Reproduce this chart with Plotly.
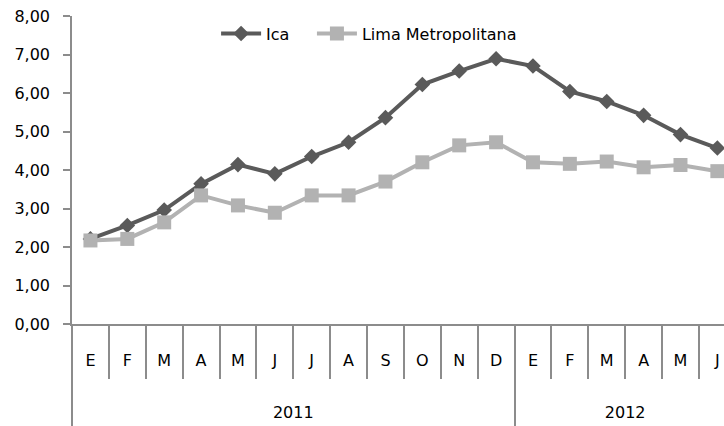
import plotly.graph_objects as go

years = ["2011"] * 12 + ["2012"] * 6
months = ["E", "F", "M", "A", "M", "J", "J", "A", "S", "O", "N", "D",
          "E", "F", "M", "A", "M", "J"]

ica = [2.21, 2.56, 2.96, 3.64, 4.14, 3.90, 4.35, 4.72, 5.36, 6.22, 6.57, 6.89,
       6.70, 6.04, 5.78, 5.42, 4.92, 4.57]
lima = [2.17, 2.21, 2.64, 3.34, 3.08, 2.89, 3.34, 3.34, 3.70, 4.20, 4.64, 4.72,
        4.20, 4.16, 4.22, 4.07, 4.13, 3.97]

y_ticks = [0, 1, 2, 3, 4, 5, 6, 7, 8]
y_labels = ["0,00", "1,00", "2,00", "3,00", "4,00", "5,00", "6,00", "7,00", "8,00"]

# month slots on a plain index axis; year labels go in the middle of their months
pos = list(range(len(months)))
year_names = sorted(set(years))
year_mid = [sum(i for i, yr in zip(pos, years) if yr == name) / years.count(name)
            for name in year_names]

FONT = "DejaVu Sans"
AXIS = "#8c8c8c"
XRANGE = [-0.5, 17.18]  # last month is cut by the right edge, as in the original

fig = go.Figure()
fig.add_trace(go.Scatter(
    x=pos, y=ica, name="Ica", mode="lines+markers", legend="legend",
    line=dict(color="#5a5a5a", width=4),
    marker=dict(symbol="diamond", size=12, color="#5a5a5a"),
))
# second series sits on the overlaid year axis (same range) so that axis gets drawn
fig.add_trace(go.Scatter(
    x=pos, y=lima, name="Lima Metropolitana", mode="lines+markers", legend="legend2",
    xaxis="x2", yaxis="y",
    line=dict(color="#b2b2b2", width=4),
    marker=dict(symbol="square", size=14, color="#b2b2b2"),
))

legend_style = dict(orientation="h", xanchor="left", yanchor="middle", y=0.943,
                    bgcolor="rgba(0,0,0,0)", font=dict(size=16), itemwidth=40)

fig.update_layout(
    width=724, height=426,
    margin=dict(l=72, r=0, t=16, b=102),
    plot_bgcolor="white", paper_bgcolor="white",
    font=dict(family=FONT, size=16, color="#000000"),
    showlegend=True,
    legend=dict(x=0.221, **legend_style),
    legend2=dict(x=0.368, **legend_style),
    xaxis=dict(
        range=XRANGE, automargin=False, ticklabeloverflow="allow",
        tickvals=pos, ticktext=months, ticks="", ticklabelstandoff=21,
        showline=True, linecolor=AXIS, linewidth=1.5,
        minor=dict(tick0=-0.5, dtick=1, ticks="outside", ticklen=53,
                   tickcolor=AXIS, tickwidth=1.5, showgrid=False),
        showgrid=False, zeroline=False, tickfont=dict(size=16),
    ),
    xaxis2=dict(
        overlaying="x", anchor="y", side="bottom",
        range=XRANGE, automargin=False, ticklabeloverflow="allow",
        tickvals=year_mid, ticktext=year_names, ticks="", ticklabelstandoff=77,
        showline=False,
        minor=dict(tick0=-0.5, dtick=12, ticks="outside", ticklen=102,
                   tickcolor=AXIS, tickwidth=1.5, showgrid=False),
        showgrid=False, zeroline=False, tickfont=dict(size=16),
    ),
    yaxis=dict(
        range=[0, 8], tickvals=y_ticks, ticktext=y_labels, automargin=False,
        ticklabeloverflow="allow",
        showline=True, linecolor=AXIS, linewidth=1.5,
        ticks="outside", ticklen=7, tickcolor=AXIS, tickwidth=1.5,
        ticklabelstandoff=10,
        showgrid=False, zeroline=False, tickfont=dict(size=16),
    ),
)

# drop the default 8px page margin and scrollbars so the figure fills the window
fig.write_html(
    "out.html",
    config={"displayModeBar": False},
    post_script="document.body.style.margin='0';"
                "document.documentElement.style.overflow='hidden';"
                "document.body.style.overflow='hidden';",
)
